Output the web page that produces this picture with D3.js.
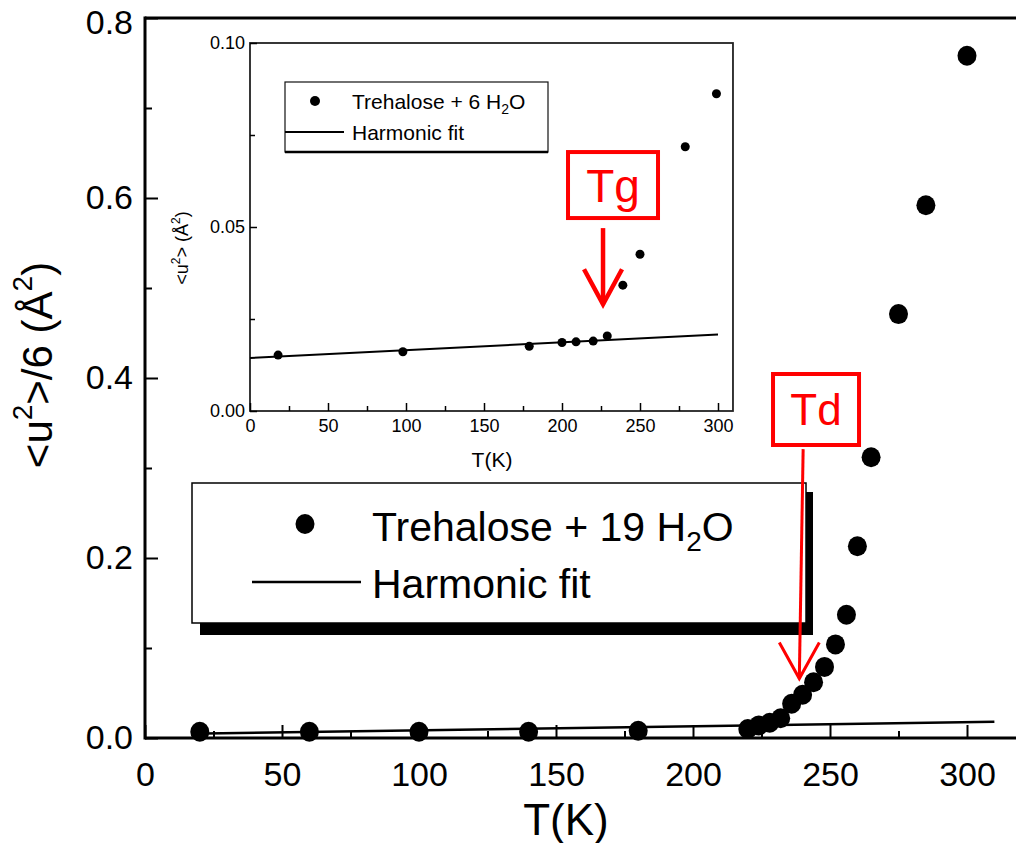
<!DOCTYPE html>
<html>
<head>
<meta charset="utf-8">
<script src="https://cdn.jsdelivr.net/npm/d3@7"></script>
<style>
  body { margin: 0; background: #fff; }
  text { font-family: "Liberation Sans", Arial, sans-serif; }
</style>
</head>
<body>
<div id="chart"></div>
<script>
// main plot: Trehalose + 19 H2O
const mainT = [20, 60, 100, 140, 180, 220, 224, 228, 232, 236, 240, 244, 248, 252, 256, 260, 265, 275, 285, 300];
const mainU = [0.007, 0.007, 0.007, 0.007, 0.008, 0.010, 0.014, 0.017, 0.022, 0.038, 0.048, 0.062, 0.079, 0.104, 0.137, 0.213, 0.312, 0.471, 0.592, 0.758];
const mainFitT = [22, 310];
const mainFitU = [0.005, 0.018];
const mainXTicks = [0, 50, 100, 150, 200, 250, 300];
const mainXMinor = [25, 75, 125, 175, 225, 275];
const mainYTicks = [0.0, 0.2, 0.4, 0.6, 0.8];
const mainYMinor = [0.1, 0.3, 0.5, 0.7];

// inset: Trehalose + 6 H2O
const insetT = [18, 98, 179, 200, 209, 220, 229, 239, 250, 279, 299];
const insetU = [0.0152, 0.0161, 0.0176, 0.0186, 0.0188, 0.0190, 0.0204, 0.0342, 0.0426, 0.0718, 0.0862];
const insetFitT = [0, 300];
const insetFitU = [0.0144, 0.0208];
const insetXTicks = [0, 50, 100, 150, 200, 250, 300];
const insetXMinor = [25, 75, 125, 175, 225, 275];
const insetYTicks = [0.00, 0.05, 0.10];
const insetYMinor = [0.025, 0.075];

const W = 1016, H = 843;
const red = "#ff0000";

const svg = d3.select("#chart").append("svg")
  .attr("width", W).attr("height", H);
svg.append("rect").attr("width", W).attr("height", H).attr("fill", "#fff");

// ---------- main axes ----------
const x = d3.scaleLinear().domain([0, 300]).range([145, 967]);
const y = d3.scaleLinear().domain([0, 0.8]).range([738, 18]);
const xEnd = x.invert(W);

const gx = svg.append("g").attr("transform", `translate(0,${y(0)})`)
  .call(d3.axisBottom(x).tickValues(mainXTicks).tickSize(-13).tickPadding(24).tickFormat(d3.format("d")));
svg.append("g").attr("transform", `translate(0,${y(0)})`)
  .call(d3.axisBottom(x).tickValues(mainXMinor).tickSize(-7).tickFormat(""));
const gy = svg.append("g").attr("transform", `translate(${x(0)},0)`)
  .call(d3.axisLeft(y).tickValues(mainYTicks).tickSize(-13).tickPadding(12).tickFormat(d3.format(".1f")));
svg.append("g").attr("transform", `translate(${x(0)},0)`)
  .call(d3.axisLeft(y).tickValues(mainYMinor).tickSize(-7).tickFormat(""));

svg.selectAll(".domain").remove();
svg.selectAll(".tick line").attr("stroke", "#000").attr("stroke-width", 2);
gx.selectAll("text").attr("font-size", 34).attr("fill", "#000");
gy.selectAll("text").attr("font-size", 34).attr("fill", "#000");
// top label sits at the very edge, nudge it down a little so it stays inside
gy.selectAll(".tick").filter(d => d === 0.8).select("text").attr("dy", "0.45em");

// frame (right side falls outside the picture)
const frame = svg.append("g").attr("stroke", "#000").attr("stroke-width", 3);
frame.append("line").attr("x1", x(0)).attr("x2", x(xEnd)).attr("y1", y(0)).attr("y2", y(0));
frame.append("line").attr("x1", x(0)).attr("x2", x(xEnd)).attr("y1", y(0.8)).attr("y2", y(0.8));
frame.append("line").attr("x1", x(0)).attr("x2", x(0)).attr("y1", y(0.8) - 1.5).attr("y2", y(0) + 1.5);

// axis titles
svg.append("text").attr("x", 566).attr("y", 835).attr("text-anchor", "middle")
  .attr("font-size", 44).text("T(K)");

const yt = svg.append("text").attr("transform", "translate(52,365) rotate(-90)")
  .attr("text-anchor", "middle").attr("font-size", 42);
yt.append("tspan").text("<u");
yt.append("tspan").attr("font-size", 28).attr("dy", -20).text("2");
yt.append("tspan").attr("dy", 20).text(">/6 (Å");
yt.append("tspan").attr("font-size", 28).attr("dy", -20).text("2");
yt.append("tspan").attr("dy", 20).text(")");

// harmonic fit + data
const line = d3.line().x(d => x(d[0])).y(d => y(d[1]));
svg.append("path").datum(d3.zip(mainFitT, mainFitU))
  .attr("d", line).attr("fill", "none").attr("stroke", "#000").attr("stroke-width", 2.5);
svg.append("g").selectAll("ellipse").data(d3.zip(mainT, mainU)).join("ellipse")
  .attr("cx", d => x(d[0])).attr("cy", d => y(d[1])).attr("rx", 9.5).attr("ry", 10).attr("fill", "#000");

// ---------- main legend ----------
const lg = svg.append("g");
lg.append("rect").attr("x", 200).attr("y", 492).attr("width", 613).attr("height", 143).attr("fill", "#000");
lg.append("rect").attr("x", 192).attr("y", 483).attr("width", 614).attr("height", 140)
  .attr("fill", "#fff").attr("stroke", "#000").attr("stroke-width", 1.5);
lg.append("ellipse").attr("cx", 305).attr("cy", 524).attr("rx", 9.5).attr("ry", 10).attr("fill", "#000");
const l1 = lg.append("text").attr("x", 372).attr("y", 541).attr("font-size", 41);
l1.append("tspan").text("Trehalose + 19 H");
l1.append("tspan").attr("font-size", 28).attr("dy", 10).text("2");
l1.append("tspan").attr("dy", -10).text("O");
lg.append("line").attr("x1", 252).attr("x2", 361).attr("y1", 582).attr("y2", 582)
  .attr("stroke", "#000").attr("stroke-width", 2.5);
lg.append("text").attr("x", 372).attr("y", 598).attr("font-size", 41).text("Harmonic fit");

// ---------- inset ----------
const ix = d3.scaleLinear().domain([0, 300]).range([250, 718]);
const iy = d3.scaleLinear().domain([0, 0.1]).range([411, 43]);
const ixEnd = 309.6;

const ins = svg.append("g");
ins.append("rect").attr("x", ix(0)).attr("y", iy(0.1)).attr("width", ix(ixEnd) - ix(0)).attr("height", iy(0) - iy(0.1))
  .attr("fill", "#fff").attr("stroke", "#222").attr("stroke-width", 1.8);

const igx = ins.append("g").attr("transform", `translate(0,${iy(0)})`)
  .call(d3.axisBottom(ix).tickValues(insetXTicks).tickSize(-8).tickPadding(8).tickFormat(d3.format("d")));
ins.append("g").attr("transform", `translate(0,${iy(0)})`)
  .call(d3.axisBottom(ix).tickValues(insetXMinor).tickSize(-5).tickFormat(""));
const igy = ins.append("g").attr("transform", `translate(${ix(0)},0)`)
  .call(d3.axisLeft(iy).tickValues(insetYTicks).tickSize(-7).tickPadding(5).tickFormat(d3.format(".2f")));
ins.append("g").attr("transform", `translate(${ix(0)},0)`)
  .call(d3.axisLeft(iy).tickValues(insetYMinor).tickSize(-5).tickFormat(""));
ins.selectAll(".domain").remove();
ins.selectAll(".tick line").attr("stroke", "#000").attr("stroke-width", 1.5);
igx.selectAll("text").attr("font-size", 18).attr("fill", "#000");
igy.selectAll("text").attr("font-size", 18).attr("fill", "#000");

ins.append("text").attr("x", 492).attr("y", 467).attr("text-anchor", "middle")
  .attr("font-size", 21).text("T(K)");
const iyt = ins.append("text").attr("transform", "translate(188,248) rotate(-90)")
  .attr("text-anchor", "middle").attr("font-size", 18);
iyt.append("tspan").text("<u");
iyt.append("tspan").attr("font-size", 12).attr("dy", -8).text("2");
iyt.append("tspan").attr("dy", 8).text("> (Å");
iyt.append("tspan").attr("font-size", 12).attr("dy", -8).text("2");
iyt.append("tspan").attr("dy", 8).text(")");

const iline = d3.line().x(d => ix(d[0])).y(d => iy(d[1]));
ins.append("path").datum(d3.zip(insetFitT, insetFitU))
  .attr("d", iline).attr("fill", "none").attr("stroke", "#000").attr("stroke-width", 2);
ins.append("g").selectAll("circle").data(d3.zip(insetT, insetU)).join("circle")
  .attr("cx", d => ix(d[0])).attr("cy", d => iy(d[1])).attr("r", 4.5).attr("fill", "#000");

// inset legend
const il = ins.append("g");
il.append("rect").attr("x", 285).attr("y", 82).attr("width", 263).attr("height", 70)
  .attr("fill", "#fff").attr("stroke", "#111").attr("stroke-width", 1.2);
il.append("line").attr("x1", 285).attr("x2", 548).attr("y1", 152).attr("y2", 152)
  .attr("stroke", "#000").attr("stroke-width", 2.5);
il.append("circle").attr("cx", 315).attr("cy", 101).attr("r", 5).attr("fill", "#000");
const il1 = il.append("text").attr("x", 352).attr("y", 109).attr("font-size", 21);
il1.append("tspan").text("Trehalose + 6 H");
il1.append("tspan").attr("font-size", 14).attr("dy", 5).text("2");
il1.append("tspan").attr("dy", -5).text("O");
il.append("line").attr("x1", 285).attr("x2", 344).attr("y1", 132).attr("y2", 132)
  .attr("stroke", "#000").attr("stroke-width", 2);
il.append("text").attr("x", 352).attr("y", 140).attr("font-size", 21).text("Harmonic fit");

// ---------- red annotations ----------
function annotate(label, box, arrow, sx, sy, fs, sw) {
  const g = svg.append("g");
  const cx = sx(box.t), cy = sy(box.u);
  g.append("rect").attr("x", cx - box.w / 2).attr("y", cy - box.h / 2)
    .attr("width", box.w).attr("height", box.h)
    .attr("fill", "#fff").attr("stroke", red).attr("stroke-width", 4);
  g.append("text").attr("x", cx).attr("y", cy + fs * 0.36).attr("text-anchor", "middle")
    .attr("font-size", fs).attr("fill", red).text(label);
  const x1 = sx(arrow.t), y1 = sy(arrow.from), y2 = sy(arrow.to);
  g.append("line").attr("x1", x1).attr("x2", sx(arrow.tTip)).attr("y1", y1).attr("y2", y2)
    .attr("stroke", red).attr("stroke-width", sw);
  g.append("path")
    .attr("d", `M${sx(arrow.tTip) - arrow.hw},${y2 - arrow.hl} L${sx(arrow.tTip)},${y2} L${sx(arrow.tTip) + arrow.hw},${y2 - arrow.hl}`)
    .attr("fill", "none").attr("stroke", red).attr("stroke-width", sw);
}

annotate("Td", { t: 244.9, u: 0.365, w: 86, h: 71 },
  { t: 240.2, tTip: 238.8, from: 0.321, to: 0.066, hw: 20, hl: 36 }, x, y, 44, 3);
annotate("Tg", { t: 232.7, u: 0.0614, w: 90, h: 66 },
  { t: 226.3, tTip: 226.3, from: 0.0497, to: 0.0290, hw: 19, hl: 35 }, ix, iy, 46, 4.5);
</script>
</body>
</html>
